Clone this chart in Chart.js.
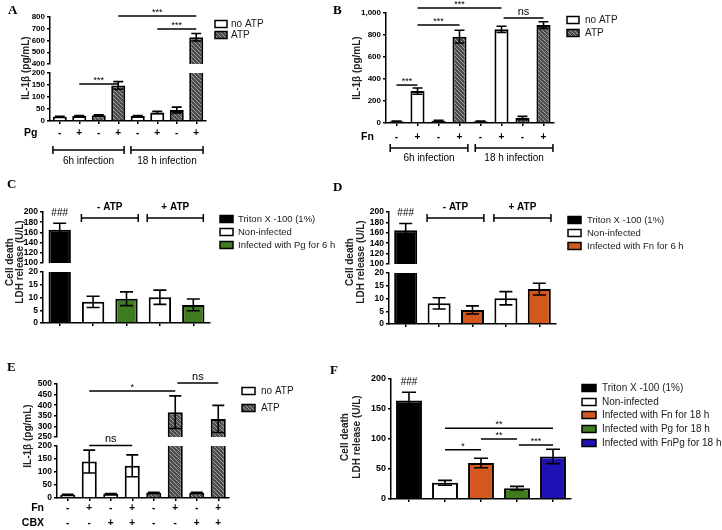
<!DOCTYPE html>
<html>
<head>
<meta charset="utf-8">
<script src="https://cdn.jsdelivr.net/npm/chart.js@4.4.0/dist/chart.umd.min.js"></script>
<style>
  html, body { margin: 0; padding: 0; background: #fff; }
  #wrap { position: relative; width: 722px; height: 530px; overflow: hidden; background: #fff; }
  #wrap canvas { position: absolute; left: 0; top: 0; }
</style>
</head>
<body>
<div id="wrap"></div>
<script>
// ---------- data ----------
// A : IL-1b after Pg infection
const aFlags   = ['-', '+', '-', '+', '-', '+', '-', '+'];
const aValues  = [18, 21, 24, 148, 21, 35, 46, 628];
const aErrors  = [2, 2, 2, 16, 2, 5, 12, 32];
const aHatched = [0, 0, 1, 1, 0, 0, 1, 1];
const aTicksLow  = [0, 50, 100, 150, 200];
const aTicksHigh = [400, 500, 600, 700, 800];
const aSigLow  = [[1, 3, 154, '***']];
const aSigHigh = [[3, 7, 808, '***'], [5, 7, 698, '***']];

// B : IL-1b after Fn infection
const bFlags   = ['-', '+', '-', '+', '-', '+', '-', '+'];
const bValues  = [15, 290, 20, 785, 15, 852, 45, 890];
const bErrors  = [2, 28, 5, 58, 2, 28, 15, 30];
const bHatched = [0, 0, 1, 1, 0, 0, 1, 1];
const bTicks   = [0, 200, 400, 600, 800, 1000];
const bSig     = [[1, 5, 1045, '***'], [5.1, 7, 955, 'ns'], [1, 3, 891, '***'], [0, 1, 345, '***']];

// C : LDH release, Pg 6 h
const cLegend  = ['Triton X -100 (1%)', 'Non-infected', 'Infected with Pg for 6 h'];
const cGroup   = [0, 1, 2, 1, 2];
const cValues  = [165, 8.3, 9.5, 10.1, 7.1];
const cErrors  = [13, 2.2, 2.7, 2.8, 2.3];
const cTicksLow  = [0, 5, 10, 15, 20];
const cTicksHigh = [100, 120, 140, 160, 180, 200];

// D : LDH release, Fn 6 h
const dLegend  = ['Triton X -100 (1%)', 'Non-infected', 'Infected with Fn for 6 h'];
const dGroup   = [0, 1, 2, 1, 2];
const dValues  = [165, 8.1, 5.5, 10.1, 13.7];
const dErrors  = [13, 2.2, 1.6, 2.6, 2.3];
const dTicksLow  = [0, 5, 10, 15, 20];
const dTicksHigh = [100, 120, 140, 160, 180, 200];

// E : IL-1b with carbenoxolone
const eFn      = ['-', '+', '-', '+', '-', '+', '-', '+'];
const eCbx     = ['-', '-', '+', '+', '-', '-', '+', '+'];
const eValues  = [12, 140, 15, 124, 20, 367, 20, 335];
const eErrors  = [2, 44, 2, 42, 2, 77, 2, 64];
const eHatched = [0, 0, 0, 0, 1, 1, 1, 1];
const eTicksLow  = [0, 50, 100, 150, 200];
const eTicksHigh = [250, 300, 350, 400, 450, 500];
const eSigLow  = [[1, 3, 202, 'ns']];
const eSigHigh = [[1, 5, 467, '*'], [5.1, 7, 505, 'ns']];

// F : LDH release, 18 h
const fLegend  = ['Triton X -100 (1%)', 'Non-infected', 'Infected with Fn for 18 h', 'Infected with Pg for 18 h', 'Infected with FnPg for 18 h'];
const fValues  = [164, 27, 60, 18, 71];
const fErrors  = [14, 4, 8, 3, 12];
const fTicks   = [0, 50, 100, 150, 200];
const fSig     = [[1, 4, 118, '**'], [1, 2, 82, '*'], [2, 3, 100, '**'], [3.05, 4, 90, '***']];

// ---------- look ----------
const W = 722, H = 530, YW = 30;
const SANS = "'Liberation Sans', Arial, sans-serif";
const SERIF = "'Liberation Serif', 'Times New Roman', serif";
const GREEN = '#3f7b1f', ORANGE = '#d4571e', BLUE = '#1e12b4';

function makeHatch() {
  const c = document.createElement('canvas');
  c.width = 4; c.height = 4;
  const g = c.getContext('2d');
  g.fillStyle = '#4d4d4d';
  g.fillRect(0, 0, 4, 4);
  g.strokeStyle = '#a0a0a0';
  g.lineWidth = 1;
  g.beginPath();
  g.moveTo(-1, -1); g.lineTo(5, 5);
  g.moveTo(-1, 3); g.lineTo(1, 5);
  g.moveTo(3, -1); g.lineTo(5, 1);
  g.stroke();
  return g.createPattern(c, 'repeat');
}
const HATCH = makeHatch();

const wrap = document.getElementById('wrap');

// draws error bars, significance lines, brackets, +/- rows, legends and free text
function extras(p) {
  return {
    id: 'extras',
    afterDatasetsDraw(chart) {
      const ctx = chart.ctx, xs = chart.scales.x, ys = chart.scales.y;
      const meta = chart.getDatasetMeta(0);
      ctx.save();
      ctx.strokeStyle = '#000';
      ctx.fillStyle = '#000';

      p.values.forEach((v, i) => {
        if (v < ys.min || v > ys.max) return;
        const bar = meta.data[i], e = p.errors[i], half = p.cap;
        const t = ys.getPixelForValue(v + e), b = ys.getPixelForValue(v - e);
        ctx.lineWidth = 1.6;
        ctx.beginPath();
        ctx.moveTo(bar.x, t); ctx.lineTo(bar.x, b);
        ctx.moveTo(bar.x - half, t); ctx.lineTo(bar.x + half, t);
        ctx.moveTo(bar.x - half, b); ctx.lineTo(bar.x + half, b);
        ctx.stroke();
        if (p.hash === i) {
          ctx.font = '10px ' + SANS;
          ctx.textAlign = 'center';
          ctx.textBaseline = 'middle';
          ctx.fillText('###', bar.x, t - 10);
        }
      });

      (p.sig || []).forEach(([a, b, v, s]) => {
        const y = ys.getPixelForValue(v);
        const x1 = xs.getPixelForValue(a), x2 = xs.getPixelForValue(b);
        ctx.lineWidth = 1.5;
        ctx.beginPath(); ctx.moveTo(x1, y); ctx.lineTo(x2, y); ctx.stroke();
        ctx.textAlign = 'center';
        ctx.textBaseline = 'alphabetic';
        if (s === 'ns') {
          ctx.font = '11px ' + SANS;
          ctx.fillText(s, (x1 + x2) / 2, y - 3);
        } else {
          ctx.font = '9px ' + SANS;
          ctx.fillText(s, (x1 + x2) / 2, y - 1);
        }
      });

      (p.rows || []).forEach(([signs, y]) => {
        ctx.font = 'bold 10px ' + SANS;
        ctx.textAlign = 'center';
        ctx.textBaseline = 'middle';
        signs.forEach((s, i) => ctx.fillText(s, xs.getPixelForValue(i), y));
      });

      (p.brackets || []).forEach(([a, b, y, s, ty, font]) => {
        const x1 = xs.getPixelForValue(a), x2 = xs.getPixelForValue(b);
        ctx.lineWidth = 1.5;
        ctx.beginPath();
        ctx.moveTo(x1, y); ctx.lineTo(x2, y);
        ctx.moveTo(x1, y - 4); ctx.lineTo(x1, y + 4);
        ctx.moveTo(x2, y - 4); ctx.lineTo(x2, y + 4);
        ctx.stroke();
        ctx.font = font;
        ctx.textAlign = 'center';
        ctx.textBaseline = 'middle';
        ctx.fillText(s, (x1 + x2) / 2, ty);
      });

      if (p.legend) {
        const L = p.legend;
        L.items.forEach(([label, fill], i) => {
          const cy = L.ys[i];
          ctx.fillStyle = fill;
          ctx.fillRect(L.x, cy - L.h / 2, L.w, L.h);
          ctx.lineWidth = 1.5;
          ctx.strokeStyle = '#000';
          ctx.strokeRect(L.x, cy - L.h / 2, L.w, L.h);
          ctx.fillStyle = '#1a1a1a';
          ctx.font = (L.size || 10) + 'px ' + SANS;
          ctx.textAlign = 'left';
          ctx.textBaseline = 'middle';
          ctx.fillText(label, L.tx, cy);
        });
      }

      (p.texts || []).forEach(t => {
        ctx.save();
        ctx.translate(t.x, t.y);
        if (t.rot) ctx.rotate(-Math.PI / 2);
        ctx.font = t.font;
        ctx.fillStyle = t.color || '#111';
        ctx.textAlign = t.align || 'center';
        ctx.textBaseline = t.base || 'middle';
        ctx.fillText(t.s, 0, 0);
        ctx.restore();
      });
      ctx.restore();
    }
  };
}

function barPanel(p) {
  const c = document.createElement('canvas');
  c.width = W; c.height = H;
  wrap.appendChild(c);
  const lo = p.ticks[0], hi = p.ticks[p.ticks.length - 1];
  const shown = p.upper ? p.values.map(v => (v >= lo ? v : null)) : p.values;
  const xH = p.upper ? 0 : 6;
  const axisGrid = { display: true, offset: false, drawOnChartArea: false, drawTicks: true, tickLength: 3, color: '#000', lineWidth: 1.5 };
  const axisBorder = { display: true, color: '#000', width: 1.5 };
  return new Chart(c, {
    type: 'bar',
    data: {
      labels: p.labels,
      datasets: [{
        data: shown,
        backgroundColor: p.colors,
        borderColor: '#000',
        borderWidth: 2,
        barPercentage: p.barPct,
        categoryPercentage: 1,
        clip: 0
      }]
    },
    options: {
      responsive: false,
      animation: false,
      events: [],
      layout: { padding: { left: p.area[0] - YW, top: p.area[1], right: W - p.area[2], bottom: H - p.area[3] - xH } },
      plugins: { legend: { display: false }, tooltip: { enabled: false } },
      scales: {
        x: {
          display: !p.upper,
          offset: true,
          grid: axisGrid,
          border: axisBorder,
          ticks: { autoSkip: false, maxRotation: 0, padding: 0, callback: () => '' },
          afterFit: s => { s.height = xH; }
        },
        y: {
          min: lo,
          max: hi,
          afterBuildTicks: s => { s.ticks = p.ticks.map(v => ({ value: v })); },
          grid: axisGrid,
          border: axisBorder,
          ticks: { autoSkip: false, color: '#000', padding: 2, font: { family: SANS, size: p.yFont, weight: 'bold' } },
          afterFit: s => { s.width = YW; }
        }
      }
    },
    plugins: [extras(p)]
  });
}

const hatchColors = flags => flags.map(h => (h ? HATCH : '#ffffff'));
const atpLegend = [['no ATP', '#ffffff'], ['ATP', HATCH]];
const letter = (s, x, y) => ({ s, x, y, font: 'bold 13px ' + SERIF, align: 'left', base: 'alphabetic', color: '#000' });
const ytitle = (s, x, y) => ({ s, x, y, rot: true, font: 'bold 10px ' + SANS, color: '#222' });
const rowLabel = (s, x, y, align) => ({ s, x, y, font: 'bold 10.5px ' + SANS, align: align || 'left', color: '#000' });

// ---------- A ----------
barPanel({
  labels: aFlags, values: aValues, errors: aErrors, colors: hatchColors(aHatched),
  ticks: aTicksLow, area: [50, 73, 206, 121], barPct: 0.72, cap: 5, yFont: 8,
  rows: [[aFlags, 133]],
  sig: aSigLow,
  brackets: [[-0.35, 3.3, 150, '6h infection', 161, '10px ' + SANS], [3.65, 7.35, 150, '18 h infection', 161, '10px ' + SANS]],
  legend: { x: 215, ys: [24, 35], w: 12, h: 7, tx: 231, items: atpLegend },
  texts: [letter('A', 8, 14), ytitle('IL-1\u03b2 (pg/mL)', 26, 68), rowLabel('Pg', 24, 133)]
});
barPanel({
  upper: true, labels: aFlags, values: aValues, errors: aErrors, colors: hatchColors(aHatched),
  ticks: aTicksHigh, area: [50, 17, 206, 64], barPct: 0.72, cap: 5, yFont: 8,
  sig: aSigHigh
});

// ---------- B ----------
barPanel({
  labels: bFlags, values: bValues, errors: bErrors, colors: hatchColors(bHatched),
  ticks: bTicks, area: [386, 13, 554, 123], barPct: 0.67, cap: 5, yFont: 8,
  rows: [[bFlags, 137]],
  sig: bSig,
  brackets: [[-0.3, 3.4, 148, '6h infection', 158, '10px ' + SANS], [3.75, 7.45, 148, '18 h infection', 158, '10px ' + SANS]],
  legend: { x: 567, ys: [20, 33], w: 12, h: 7, tx: 585, items: atpLegend },
  texts: [letter('B', 333, 14), ytitle('IL-1\u03b2 (pg/mL)', 357, 68), rowLabel('Fn', 361, 137)]
});

// ---------- C ----------
const cColors = ['#000000', '#ffffff', GREEN];
barPanel({
  labels: cGroup.map(g => cLegend[g]), values: cValues, errors: cErrors, colors: cGroup.map(g => cColors[g]),
  ticks: cTicksLow, area: [43, 272, 210, 323], barPct: 0.67, cap: 6.5, yFont: 8.5,
  legend: { x: 220, ys: [219, 232, 245], w: 13, h: 7, tx: 238, size: 9.5, items: cLegend.map((s, i) => [s, cColors[i]]) },
  texts: [letter('C', 7, 188), ytitle('Cell death', 10, 262), ytitle('LDH release (U/L)', 20, 262)]
});
barPanel({
  upper: true, labels: cGroup.map(g => cLegend[g]), values: cValues, errors: cErrors, colors: cGroup.map(g => cColors[g]),
  ticks: cTicksHigh, area: [43, 212, 210, 263], barPct: 0.67, cap: 6.5, yFont: 8.5, hash: 0,
  brackets: [[0.65, 2.35, 218, '- ATP', 207, 'bold 10px ' + SANS], [2.62, 4.3, 218, '+ ATP', 207, 'bold 10px ' + SANS]]
});

// ---------- D ----------
const dColors = ['#000000', '#ffffff', ORANGE];
barPanel({
  labels: dGroup.map(g => dLegend[g]), values: dValues, errors: dErrors, colors: dGroup.map(g => dColors[g]),
  ticks: dTicksLow, area: [389, 273, 556, 324], barPct: 0.69, cap: 6.5, yFont: 8.5,
  legend: { x: 568, ys: [220, 233, 246], w: 13, h: 7, tx: 587, size: 9.5, items: dLegend.map((s, i) => [s, dColors[i]]) },
  texts: [letter('D', 333, 191), ytitle('Cell death', 350, 262), ytitle('LDH release (U/L)', 361, 262)]
});
barPanel({
  upper: true, labels: dGroup.map(g => dLegend[g]), values: dValues, errors: dErrors, colors: dGroup.map(g => dColors[g]),
  ticks: dTicksHigh, area: [389, 212, 556, 264], barPct: 0.69, cap: 6.5, yFont: 8.5, hash: 0,
  brackets: [[0.64, 2.34, 218, '- ATP', 207, 'bold 10px ' + SANS], [2.64, 4.35, 218, '+ ATP', 207, 'bold 10px ' + SANS]]
});

// ---------- E ----------
const eLabels = eFn.map((f, i) => f + ' / ' + eCbx[i]);
barPanel({
  labels: eLabels, values: eValues, errors: eErrors, colors: hatchColors(eHatched),
  ticks: eTicksLow, area: [57, 446, 229, 498], barPct: 0.7, cap: 6, yFont: 8.5,
  rows: [[eFn, 508], [eCbx, 523]],
  sig: eSigLow,
  legend: { x: 242, ys: [391, 408], w: 13, h: 7, tx: 261, items: atpLegend },
  texts: [letter('E', 7, 371), ytitle('IL-1\u03b2 (pg/mL)', 28, 436), rowLabel('Fn', 44, 508, 'right'), rowLabel('CBX', 44, 523, 'right')]
});
barPanel({
  upper: true, labels: eLabels, values: eValues, errors: eErrors, colors: hatchColors(eHatched),
  ticks: eTicksHigh, area: [57, 384, 229, 437], barPct: 0.7, cap: 6, yFont: 8.5,
  sig: eSigHigh
});

// ---------- F ----------
const fColors = ['#000000', '#ffffff', ORANGE, GREEN, BLUE];
barPanel({
  labels: fLegend, values: fValues, errors: fErrors, colors: fColors,
  ticks: fTicks, area: [391, 379, 571, 499], barPct: 0.72, cap: 7, yFont: 9, hash: 0,
  sig: fSig,
  legend: { x: 582, ys: [388, 402, 415, 429, 443], w: 14, h: 7, tx: 602, items: fLegend.map((s, i) => [s, fColors[i]]) },
  texts: [letter('F', 330, 374), ytitle('Cell death', 345, 437), ytitle('LDH release (U/L)', 357, 437)]
});
</script>
</body>
</html>
